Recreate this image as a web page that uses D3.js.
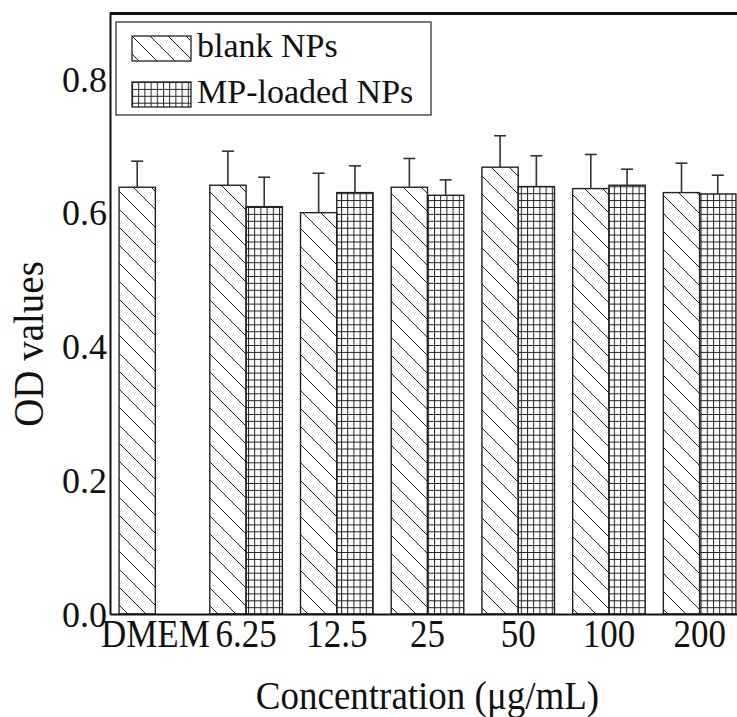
<!DOCTYPE html>
<html>
<head>
<meta charset="utf-8">
<script src="https://cdn.jsdelivr.net/npm/d3@7"></script>
<style>
  body { margin: 0; background: #fff; }
  text { font-family: "Liberation Serif", "Times New Roman", serif; fill: #111; }
</style>
</head>
<body>
<svg id="chart" width="737" height="717"></svg>
<script>
// data
const categories = ["DMEM", "6.25", "12.5", "25", "50", "100", "200"];
const blankMeans = [0.638, 0.641, 0.600, 0.638, 0.668, 0.636, 0.630];
const blankErr = [0.039, 0.051, 0.059, 0.043, 0.047, 0.051, 0.044];
const mpMeans = [null, 0.609, 0.630, 0.626, 0.639, 0.641, 0.628];
const mpErr = [null, 0.044, 0.040, 0.023, 0.046, 0.024, 0.028];
const yTicks = [0.0, 0.2, 0.4, 0.6, 0.8];
const seriesNames = ["blank NPs", "MP-loaded NPs"];

const svg = d3.select("#chart");
const plotLeft = 110, plotRight = 745, plotTop = 12, plotBottom = 614;

const x = d3.scaleBand()
    .domain(categories)
    .range([plotLeft, plotRight])
    .paddingInner(0.2)
    .paddingOuter(0.1);

const xSub = d3.scaleBand()
    .domain(["blank", "mp"])
    .range([0, x.bandwidth()]);

const y = d3.scaleLinear()
    .domain([0, 0.9])
    .range([plotBottom, plotTop]);

// hatch patterns
const defs = svg.append("defs");
const diag = defs.append("pattern")
    .attr("id", "diag")
    .attr("patternUnits", "userSpaceOnUse")
    .attr("width", 18)
    .attr("height", 18);
diag.append("path")
    .attr("d", "M-2,-2 L20,20 M-2,16 L2,20 M16,-2 L20,2")
    .attr("stroke", "#222")
    .attr("stroke-width", 1);

const grid = defs.append("pattern")
    .attr("id", "grid")
    .attr("patternUnits", "userSpaceOnUse")
    .attr("width", 6.2)
    .attr("height", 6.9);
grid.append("path")
    .attr("d", "M0.5,0 V6.9 M0,0.5 H6.2")
    .attr("stroke", "#222")
    .attr("stroke-width", 1);

// rows for drawing
const rows = [];
categories.forEach((c, i) => {
    rows.push({ cat: c, key: "blank", v: blankMeans[i], e: blankErr[i] });
    if (mpMeans[i] != null) rows.push({ cat: c, key: "mp", v: mpMeans[i], e: mpErr[i] });
});

const g = svg.append("g");

g.selectAll("rect.bar")
    .data(rows)
    .join("rect")
    .attr("class", "bar")
    .attr("x", d => x(d.cat) + xSub(d.key))
    .attr("y", d => y(d.v))
    .attr("width", xSub.bandwidth())
    .attr("height", d => y(0) - y(d.v))
    .attr("fill", d => d.key === "blank" ? "url(#diag)" : "url(#grid)")
    .attr("stroke", "#222")
    .attr("stroke-width", 1.4);

// error bars (upper only)
const errs = g.selectAll("g.err")
    .data(rows)
    .join("g")
    .attr("class", "err")
    .attr("stroke", "#333")
    .attr("stroke-width", 1.6);
errs.append("line")
    .attr("x1", d => x(d.cat) + xSub(d.key) + xSub.bandwidth() / 2)
    .attr("x2", d => x(d.cat) + xSub(d.key) + xSub.bandwidth() / 2)
    .attr("y1", d => y(d.v))
    .attr("y2", d => y(d.v + d.e));
errs.append("line")
    .attr("x1", d => x(d.cat) + xSub(d.key) + xSub.bandwidth() / 2 - 6)
    .attr("x2", d => x(d.cat) + xSub(d.key) + xSub.bandwidth() / 2 + 6)
    .attr("y1", d => y(d.v + d.e))
    .attr("y2", d => y(d.v + d.e));

// top frame line
svg.append("line")
    .attr("x1", plotLeft)
    .attr("x2", plotRight)
    .attr("y1", plotTop + 1.5)
    .attr("y2", plotTop + 1.5)
    .attr("stroke", "#111")
    .attr("stroke-width", 3);

// axes
svg.append("g")
    .attr("transform", `translate(${plotLeft},0)`)
    .call(d3.axisLeft(y).tickValues(yTicks).tickFormat(d3.format(".1f")).tickSize(0).tickPadding(3))
    .call(g => g.select(".domain").attr("stroke", "#111").attr("stroke-width", 2))
    .call(g => g.selectAll("text")
        .attr("dy", "0.34em")
        .style("font-family", "'Liberation Serif', serif")
        .style("font-size", "36px")
        .attr("fill", "#111"));

// x labels are a bit taller than wide in the original, stretch them
svg.append("g")
    .attr("transform", `translate(0,${plotBottom})`)
    .call(d3.axisBottom(x).tickSize(0))
    .call(g => g.select(".domain").attr("stroke", "#111").attr("stroke-width", 2))
    .call(g => g.selectAll("text")
        .attr("y", 0)
        .attr("dy", 0)
        .attr("transform", "translate(0,33) scale(1,1.15)")
        .style("font-family", "'Liberation Serif', serif")
        .style("font-size", "35px")
        .attr("fill", "#111"));

// axis titles
svg.append("text")
    .attr("transform", `translate(${(plotLeft + plotRight) / 2},709) scale(1,1.1)`)
    .attr("text-anchor", "middle")
    .style("font-size", "37px")
    .text("Concentration (μg/mL)");

svg.append("text")
    .attr("transform", "translate(43,344) rotate(-90) scale(1,1.06)")
    .attr("text-anchor", "middle")
    .style("font-size", "39px")
    .text("OD values");

// legend
const legend = svg.append("g");
legend.append("rect")
    .attr("x", 116)
    .attr("y", 22)
    .attr("width", 315)
    .attr("height", 93)
    .attr("fill", "#fff")
    .attr("stroke", "#333")
    .attr("stroke-width", 1.3);

const items = legend.selectAll("g.item")
    .data(seriesNames)
    .join("g")
    .attr("class", "item")
    .attr("transform", (d, i) => `translate(132,${36 + i * 46})`);
items.append("rect")
    .attr("width", 59)
    .attr("height", 25)
    .attr("fill", (d, i) => i === 0 ? "url(#diag)" : "url(#grid)")
    .attr("stroke", "#222")
    .attr("stroke-width", 1.3);
items.append("text")
    .attr("x", 65)
    .attr("y", 21)
    .style("font-size", "34px")
    .text(d => d);
</script>
</body>
</html>
